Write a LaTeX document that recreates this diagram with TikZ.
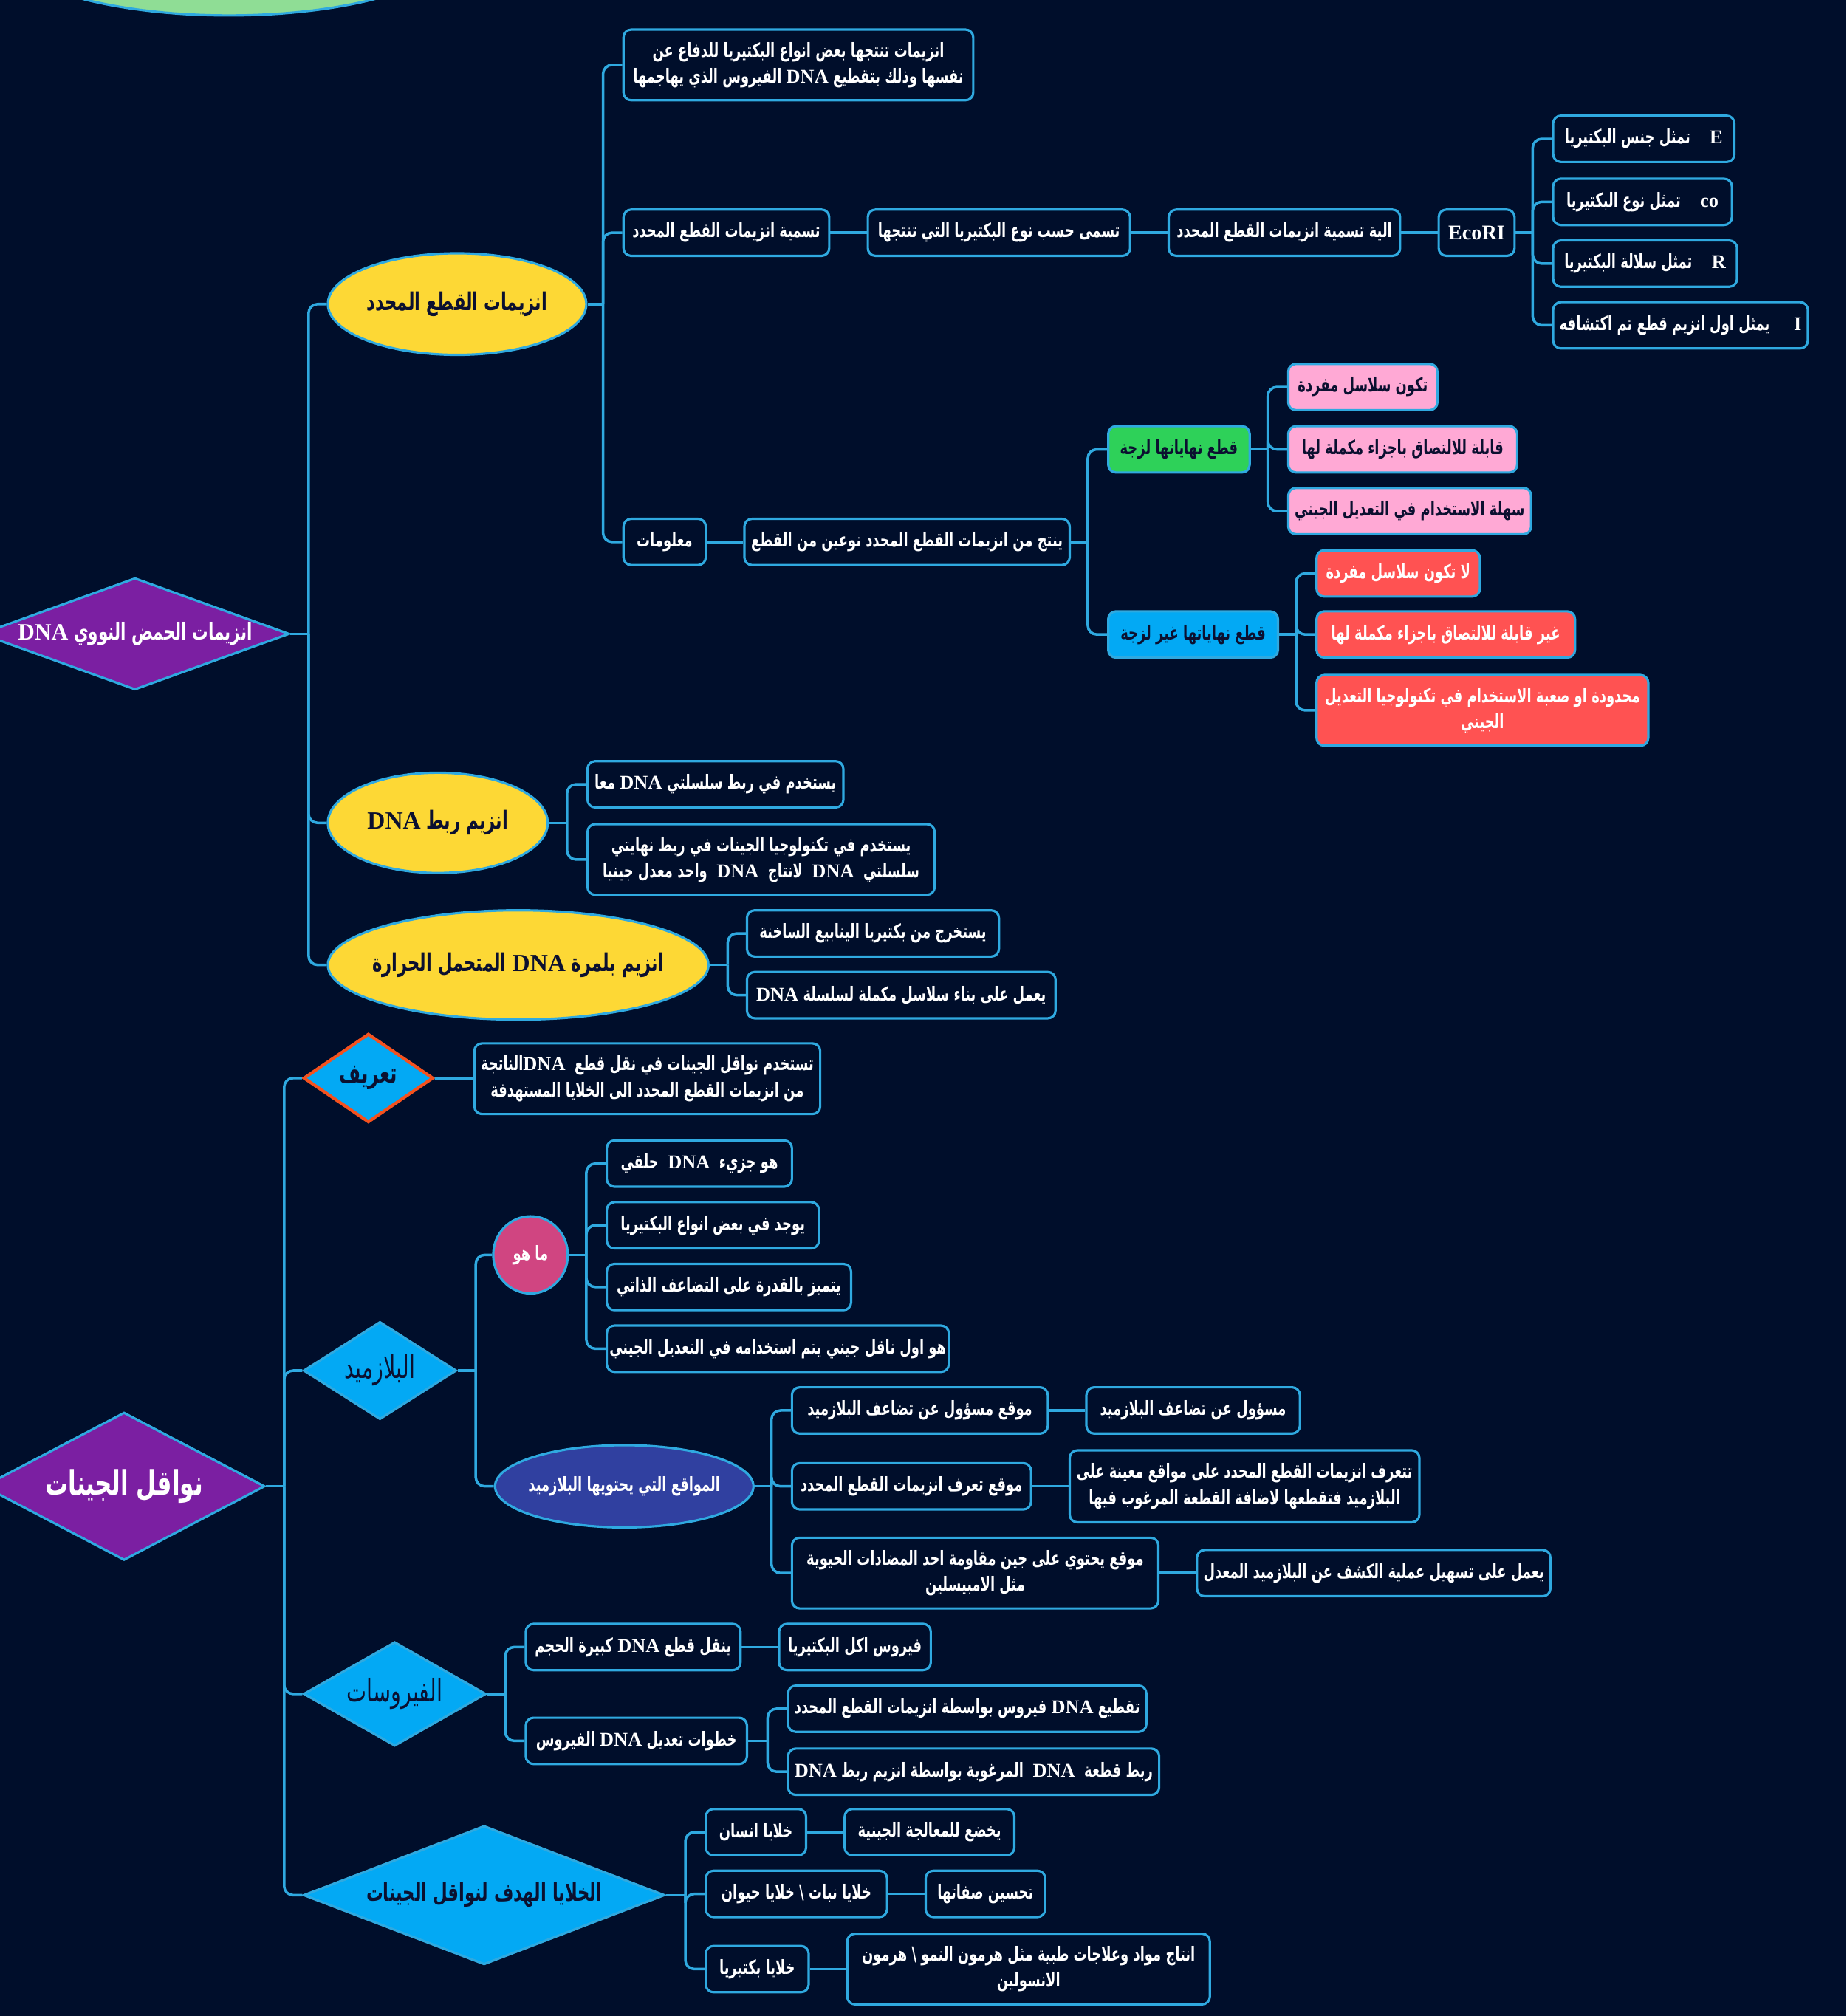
\documentclass[tikz,border=0pt]{standalone}
\usepackage{fontspec}
\usetikzlibrary{shapes.geometric}
\setmainfont{DejaVu Sans}
\newfontfamily\arfont[Script=Arabic,FakeStretch=0.68]{DejaVu Sans}
\newfontfamily\latfont{Liberation Serif}
\TeXXeTstate=1
\newdimen\unitpx \unitpx=0.017416cm
\newcommand\arline[1]{\beginR #1\endR}
\newcommand\ltrword[1]{\beginL{\latfont\bfseries #1}\endL}

\definecolor{bgnavy}{HTML}{000E2B}
\definecolor{linkblue}{HTML}{2FA9E0}
\definecolor{sunyellow}{HTML}{FDD835}
\definecolor{rootpurple}{HTML}{7B1FA2}
\definecolor{skyblue}{HTML}{03A9F4}
\definecolor{leafgreen}{HTML}{2ED159}
\definecolor{softpink}{HTML}{FFA9D5}
\definecolor{warnred}{HTML}{FF5252}
\definecolor{berry}{HTML}{D04581}
\definecolor{siteindigo}{HTML}{3040A0}
\definecolor{inkdark}{HTML}{0B1030}
\definecolor{mint}{HTML}{8FDD95}
\definecolor{fireorange}{HTML}{F4511E}

\tikzstyle{box} = [rectangle, rounded corners=6\unitpx, draw=linkblue, line width=0.9pt, fill=bgnavy, text=white, minimum height=36\unitpx, inner xsep=5\unitpx, inner ysep=1\unitpx, align=center, anchor=west, font=\arfont\bfseries\fontsize{7.5}{10}\selectfont]
\tikzstyle{greenbox} = [box, fill=leafgreen, text=inkdark]
\tikzstyle{pinkbox} = [box, fill=softpink, text=inkdark]
\tikzstyle{bluebox} = [box, fill=skyblue, text=inkdark]
\tikzstyle{redbox} = [box, fill=warnred, text=white]
\tikzstyle{oval} = [ellipse, draw=linkblue, line width=0.9pt, fill=sunyellow, text=inkdark, inner xsep=-12\unitpx, inner ysep=0pt, font=\arfont\bfseries\fontsize{9.5}{12}\selectfont]
\tikzstyle{gem} = [diamond, draw=linkblue, line width=0.9pt, fill=skyblue, text=inkdark, inner sep=0pt, font=\arfont\bfseries\fontsize{10}{12}\selectfont]
\tikzstyle{link} = [draw=linkblue, line width=1pt, rounded corners=7\unitpx]

\begin{document}
\begin{tikzpicture}[x=0.017416cm, y=-0.017416cm]
        \fill[bgnavy] (0,0) rectangle (1436,1568);
        \useasboundingbox (0,0) rectangle (1436,1568);
        \node[ellipse, fill=mint, draw=linkblue, line width=0.9pt, minimum width=360\unitpx, minimum height=114\unitpx] (topblob) at (178,-45) {};

        % Nodes: DNA enzymes
        \node[gem, fill=rootpurple, text=white, shape aspect=2.76, minimum width=240\unitpx, minimum height=87\unitpx, font=\arfont\bfseries\fontsize{9}{11}\selectfont] (root1) at (105,493) {\arline{انزيمات الحمض النووي \ltrword{DNA}}};
        \node[oval, minimum width=201\unitpx, minimum height=79\unitpx] (e1) at (355.5,236.5) {\arline{انزيمات القطع المحدد}};
        \node[oval, minimum width=171\unitpx, minimum height=78\unitpx] (e2) at (340.5,640) {\arline{انزيم ربط \ltrword{DNA}}};
        \node[oval, minimum width=296\unitpx, minimum height=85\unitpx] (e3) at (403,750.5) {\arline{انزيم بلمرة \ltrword{DNA} المتحمل الحرارة}};

        \node[box, minimum width=272\unitpx, minimum height=55\unitpx] (a1) at (484,50.5) {\arline{انزيمات تنتجها بعض انواع البكتيريا للدفاع عن}\\\arline{نفسها وذلك بتقطيع \ltrword{DNA} الفيروس الذي يهاجمها}};
        \node[box, minimum width=160\unitpx] (a2) at (484,181) {\arline{تسمية انزيمات القطع المحدد}};
        \node[box, minimum width=64\unitpx] (a3) at (484,421.5) {\arline{معلومات}};
        \node[box, minimum width=204\unitpx] (b1) at (674,181) {\arline{تسمى حسب نوع البكتيريا التي تنتجها}};
        \node[box, minimum width=180\unitpx] (b2) at (908,181) {\arline{الية تسمية انزيمات القطع المحدد}};
        \node[box, minimum width=59\unitpx, font=\latfont\bfseries\fontsize{8}{10}\selectfont] (b3) at (1118,181) {EcoRI};
        \node[box, minimum width=141\unitpx] (c1) at (1207,108) {\arline{\ltrword{E}\quad تمثل جنس البكتيريا}};
        \node[box, minimum width=139\unitpx] (c2) at (1207,157) {\arline{\ltrword{co}\quad تمثل نوع البكتيريا}};
        \node[box, minimum width=143\unitpx] (c3) at (1207,205) {\arline{\ltrword{R}\quad تمثل سلالة البكتيريا}};
        \node[box, minimum width=193\unitpx] (c4) at (1207,253) {\arline{\ltrword{I}\quad\ يمثل اول انزيم قطع تم اكتشافه}};
        \node[box, minimum width=253\unitpx] (d1) at (578,421.5) {\arline{ينتج من انزيمات القطع المحدد نوعين من القطع}};
        \node[greenbox, minimum width=110\unitpx] (g1) at (861,349.5) {\arline{قطع نهاياتها لزجة}};
        \node[bluebox, minimum width=132\unitpx] (g2) at (861,493.5) {\arline{قطع نهاياتها غير لزجة}};
        \node[pinkbox, minimum width=116\unitpx] (p1) at (1001,301) {\arline{تكون سلاسل مفردة}};
        \node[pinkbox, minimum width=178\unitpx] (p2) at (1001,349.5) {\arline{قابلة للالتصاق باجزاء مكملة لها}};
        \node[pinkbox, minimum width=184\unitpx] (p3) at (1001,397.5) {\arline{سهلة الاستخدام في التعديل الجيني}};
        \node[redbox, minimum width=127\unitpx] (r1) at (1023,446) {\arline{لا تكون سلاسل مفردة}};
        \node[redbox, minimum width=201\unitpx] (r2) at (1023,493.5) {\arline{غير قابلة للالتصاق باجزاء مكملة لها}};
        \node[redbox, minimum width=258\unitpx, minimum height=55\unitpx] (r3) at (1023,552.5) {\arline{محدودة او صعبة الاستخدام في تكنولوجيا التعديل}\\\arline{الجيني}};
        \node[box, minimum width=199\unitpx] (l1) at (456,610) {\arline{يستخدم في ربط سلسلتي \ltrword{DNA} معا}};
        \node[box, minimum width=270\unitpx, minimum height=55\unitpx] (l2) at (456,668.5) {\arline{يستخدم في تكنولوجيا الجينات في ربط نهايتي}\\\arline{سلسلتي \ \ltrword{DNA} \ لانتاج \ \ltrword{DNA} \ واحد معدل جينيا}};
        \node[box, minimum width=196\unitpx] (m1) at (580,726) {\arline{يستخرج من بكتيريا الينابيع الساخنة}};
        \node[box, minimum width=240\unitpx] (m2) at (580,774) {\arline{يعمل على بناء سلاسل مكملة لسلسلة \ltrword{DNA}}};

        % Nodes: gene vectors
        \node[gem, fill=rootpurple, text=white, shape aspect=1.9, minimum width=219\unitpx, minimum height=115\unitpx, font=\arfont\bfseries\fontsize{13}{15}\selectfont] (root2) at (96.5,1156) {\arline{نواقل الجينات}};
        \node[gem, draw=fireorange, line width=1.2pt, shape aspect=1.46, minimum width=101\unitpx, minimum height=69\unitpx, font=\arfont\bfseries\fontsize{10.5}{12}\selectfont] (tarif) at (286.5,838.5) {\arline{تعريف}};
        \node[gem, shape aspect=1.57, minimum width=119\unitpx, minimum height=76\unitpx, font=\arfont\fontsize{12}{14}\selectfont] (plasmid) at (295.5,1066) {\arline{البلازميد}};
        \node[gem, shape aspect=1.75, minimum width=142\unitpx, minimum height=81\unitpx, font=\arfont\fontsize{12}{14}\selectfont] (virus) at (307,1317.5) {\arline{الفيروسات}};
        \node[gem, shape aspect=2.6, minimum width=281\unitpx, minimum height=108\unitpx, font=\arfont\bfseries\fontsize{9.5}{12}\selectfont] (target) at (376.5,1474) {\arline{الخلايا الهدف لنواقل الجينات}};

        \node[box, minimum width=265\unitpx, minimum height=55\unitpx] (def1) at (368,839) {\arline{تستخدم نواقل الجينات في نقل قطع \ \ltrword{DNA}الناتجة}\\\arline{من انزيمات القطع المحدد الى الخلايا المستهدفة}};
        \node[ellipse, draw=linkblue, line width=0.9pt, fill=berry, text=white, inner sep=0pt, minimum width=58\unitpx, minimum height=60\unitpx, font=\arfont\bfseries\fontsize{7.5}{10}\selectfont] (maho) at (412.6,976) {\arline{ما هو}};
        \node[box, minimum width=144\unitpx] (w1) at (471,905) {\arline{هو جزيء \ \ltrword{DNA} \ حلقي}};
        \node[box, minimum width=165\unitpx] (w2) at (471,953) {\arline{يوجد في بعض انواع البكتيريا}};
        \node[box, minimum width=190\unitpx] (w3) at (471,1001) {\arline{يتميز بالقدرة على التضاعف الذاتي}};
        \node[box, minimum width=266\unitpx, inner xsep=2\unitpx] (w4) at (471,1049) {\arline{هو اول ناقل جيني يتم استخدامه في التعديل الجيني}};
        \node[ellipse, draw=linkblue, line width=0.9pt, fill=siteindigo, text=white, inner xsep=-12\unitpx, inner ysep=0pt, minimum width=201\unitpx, minimum height=64\unitpx, font=\arfont\bfseries\fontsize{7.5}{10}\selectfont] (sites) at (485.5,1156) {\arline{المواقع التي يحتويها البلازميد}};
        \node[box, minimum width=199\unitpx] (s1) at (615,1097) {\arline{موقع مسؤول عن تضاعف البلازميد}};
        \node[box, minimum width=166\unitpx] (s1x) at (844,1097) {\arline{مسؤول عن تضاعف البلازميد}};
        \node[box, minimum width=186\unitpx] (s2) at (615,1156) {\arline{موقع تعرف انزيمات القطع المحدد}};
        \node[box, minimum width=272\unitpx, minimum height=56\unitpx] (s2x) at (831,1156) {\arline{تتعرف انزيمات القطع المحدد على مواقع معينة على}\\\arline{البلازميد فتقطعها لاضافة القطعة المرغوب فيها}};
        \node[box, minimum width=285\unitpx, minimum height=55\unitpx] (s3) at (615,1223.5) {\arline{موقع يحتوي على جين مقاومة احد المضادات الحيوية}\\\arline{مثل الامبيسلين}};
        \node[box, minimum width=274\unitpx] (s3x) at (930,1223.5) {\arline{يعمل على تسهيل عملية الكشف عن البلازميد المعدل}};
        \node[box, minimum width=167\unitpx] (v1) at (408,1281) {\arline{ينقل قطع \ltrword{DNA} كبيرة الحجم}};
        \node[box, minimum width=118\unitpx] (v1x) at (605,1281) {\arline{فيروس اكل البكتيريا}};
        \node[box, minimum width=172\unitpx] (v2) at (408,1354) {\arline{خطوات تعديل \ltrword{DNA} الفيروس}};
        \node[box, minimum width=277\unitpx] (v3) at (612,1329) {\arline{تقطيع \ltrword{DNA} فيروس بواسطة انزيمات القطع المحدد}};
        \node[box, minimum width=288\unitpx] (v4) at (612,1378) {\arline{ربط قطعة \ \ltrword{DNA} \ المرغوبة بواسطة انزيم ربط \ltrword{DNA}}};
        \node[box, minimum width=78\unitpx] (h1) at (548,1425) {\arline{خلايا انسان}};
        \node[box, minimum width=132\unitpx] (h1x) at (656,1425) {\arline{يخضع للمعالجة الجينية}};
        \node[box, minimum width=141\unitpx] (h2) at (548,1473) {\arline{خلايا نبات \textbackslash{} خلايا حيوان}};
        \node[box, minimum width=93\unitpx] (h2x) at (719,1473) {\arline{تحسين صفاتها}};
        \node[box, minimum width=80\unitpx] (h3) at (548,1531.5) {\arline{خلايا بكتيريا}};
        \node[box, minimum width=282\unitpx, minimum height=55\unitpx] (h3x) at (658,1531.5) {\arline{انتاج مواد وعلاجات طبية مثل هرمون النمو \textbackslash{} هرمون}\\\arline{الانسولين}};

        % Junctions
        \coordinate (j-root1) at (240,493);
        \coordinate (j-e1) at (469,236.5);
        \coordinate (j-b3) at (1192,181);
        \coordinate (j-d1) at (846,421.5);
        \coordinate (j-g1) at (986,349.5);
        \coordinate (j-g2) at (1008,493.5);
        \coordinate (j-e2) at (441,640);
        \coordinate (j-e3) at (566,750.5);
        \coordinate (j-root2) at (221,1156);
        \coordinate (j-plasmid) at (370,1066);
        \coordinate (j-maho) at (456,976);
        \coordinate (j-sites) at (600,1156);
        \coordinate (j-virus) at (393,1317.5);
        \coordinate (j-v2) at (597,1354);
        \coordinate (j-target) at (533,1474);

        % Arrows
        \draw [link] (root1.east) -- (j-root1);
        \draw [link] (j-root1) |- (e1.west);
        \draw [link] (j-root1) |- (e2.west);
        \draw [link] (j-root1) |- (e3.west);
        \draw [link] (e1.east) -- (j-e1);
        \draw [link] (j-e1) |- (a1.west);
        \draw [link] (j-e1) |- (a2.west);
        \draw [link] (j-e1) |- (a3.west);
        \draw [link] (a2) -- (b1);
        \draw [link] (b1) -- (b2);
        \draw [link] (b2) -- (b3);
        \draw [link] (b3.east) -- (j-b3);
        \draw [link] (j-b3) |- (c1.west);
        \draw [link] (j-b3) |- (c2.west);
        \draw [link] (j-b3) |- (c3.west);
        \draw [link] (j-b3) |- (c4.west);
        \draw [link] (a3) -- (d1);
        \draw [link] (d1.east) -- (j-d1);
        \draw [link] (j-d1) |- (g1.west);
        \draw [link] (j-d1) |- (g2.west);
        \draw [link] (g1.east) -- (j-g1);
        \draw [link] (j-g1) |- (p1.west);
        \draw [link] (j-g1) |- (p2.west);
        \draw [link] (j-g1) |- (p3.west);
        \draw [link] (g2.east) -- (j-g2);
        \draw [link] (j-g2) |- (r1.west);
        \draw [link] (j-g2) |- (r2.west);
        \draw [link] (j-g2) |- (r3.west);
        \draw [link] (e2.east) -- (j-e2);
        \draw [link] (j-e2) |- (l1.west);
        \draw [link] (j-e2) |- (l2.west);
        \draw [link] (e3.east) -- (j-e3);
        \draw [link] (j-e3) |- (m1.west);
        \draw [link] (j-e3) |- (m2.west);

        \draw [link] (root2.east) -- (j-root2);
        \draw [link] (j-root2) |- (tarif.west);
        \draw [link] (j-root2) |- (plasmid.west);
        \draw [link] (j-root2) |- (virus.west);
        \draw [link] (j-root2) |- (target.west);
        \draw [link] (tarif) -- (def1);
        \draw [link] (plasmid.east) -- (j-plasmid);
        \draw [link] (j-plasmid) |- (maho.west);
        \draw [link] (j-plasmid) |- (sites.west);
        \draw [link] (maho.east) -- (j-maho);
        \draw [link] (j-maho) |- (w1.west);
        \draw [link] (j-maho) |- (w2.west);
        \draw [link] (j-maho) |- (w3.west);
        \draw [link] (j-maho) |- (w4.west);
        \draw [link] (sites.east) -- (j-sites);
        \draw [link] (j-sites) |- (s1.west);
        \draw [link] (j-sites) |- (s2.west);
        \draw [link] (j-sites) |- (s3.west);
        \draw [link] (s1) -- (s1x);
        \draw [link] (s2) -- (s2x);
        \draw [link] (s3) -- (s3x);
        \draw [link] (virus.east) -- (j-virus);
        \draw [link] (j-virus) |- (v1.west);
        \draw [link] (j-virus) |- (v2.west);
        \draw [link] (v1) -- (v1x);
        \draw [link] (v2.east) -- (j-v2);
        \draw [link] (j-v2) |- (v3.west);
        \draw [link] (j-v2) |- (v4.west);
        \draw [link] (target.east) -- (j-target);
        \draw [link] (j-target) |- (h1.west);
        \draw [link] (j-target) |- (h2.west);
        \draw [link] (j-target) |- (h3.west);
        \draw [link] (h1) -- (h1x);
        \draw [link] (h2) -- (h2x);
        \draw [link] (h3) -- (h3x);
    \end{tikzpicture}
\end{document}
